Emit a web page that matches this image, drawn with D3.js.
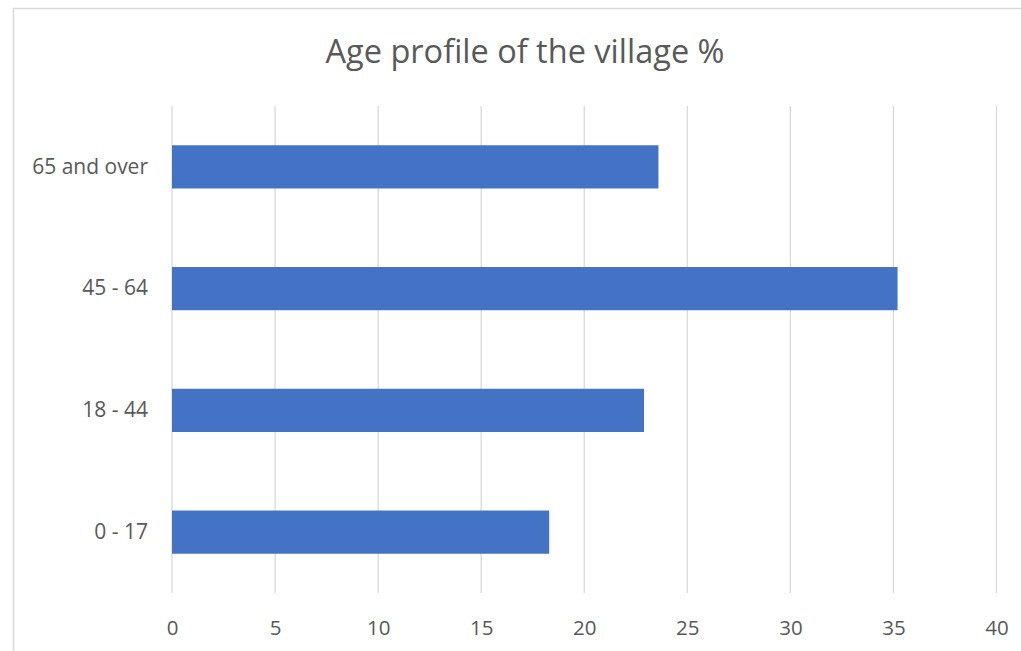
<!DOCTYPE html>
<html>
<head>
<meta charset="utf-8">
<script src="https://cdn.jsdelivr.net/npm/d3@7"></script>
<style>
  body { margin: 0; background: #fff; }
  text { font-family: "Open Sans", "Noto Sans", sans-serif; fill: #595959; }
</style>
</head>
<body>
<svg width="1021" height="651"></svg>
<script>
// Age groups, bottom to top as drawn in the chart
var categories = ["0 - 17", "18 - 44", "45 - 64", "65 and over"];
var values = [18.3, 22.9, 35.2, 23.6];
var xTicks = [0, 5, 10, 15, 20, 25, 30, 35, 40];

var svg = d3.select("svg");

// outer chart border (only top and left edges show in the picture)
svg.append("rect")
  .attr("x", 13.5)
  .attr("y", 8.5)
  .attr("width", 1030)
  .attr("height", 660)
  .style("fill", "none")
  .style("stroke", "#d9d9d9")
  .style("stroke-width", 1.5);

var margin = {top: 106, right: 24.5, bottom: 58, left: 172},
    width = 1021 - margin.left - margin.right,
    height = 651 - margin.top - margin.bottom;

var g = svg.append("g")
  .attr("transform", "translate(" + margin.left + "," + margin.top + ")");

var x = d3.scaleLinear()
  .domain([0, 40])
  .range([0, width]);

var y = d3.scaleBand()
  .domain(categories.slice().reverse())
  .range([0, height])
  .paddingInner(0.645)
  .paddingOuter(0.3225);

// vertical gridlines
g.selectAll("line.grid")
  .data(xTicks)
  .enter()
  .append("line")
    .attr("class", "grid")
    .attr("x1", function(d) { return x(d); })
    .attr("x2", function(d) { return x(d); })
    .attr("y1", 0)
    .attr("y2", height)
    .style("stroke", "#d9d9d9")
    .style("stroke-width", 1.3);

// bars
g.selectAll("rect.bar")
  .data(categories)
  .enter()
  .append("rect")
    .attr("class", "bar")
    .attr("x", x(0))
    .attr("y", function(d) { return y(d); })
    .attr("width", function(d, i) { return x(values[i]) - x(0); })
    .attr("height", y.bandwidth())
    .style("fill", "#4472c4");

// x axis labels
var xAxis = g.append("g")
  .attr("transform", "translate(0," + height + ")")
  .call(d3.axisBottom(x).tickValues(xTicks).tickSize(0).tickPadding(27));
xAxis.select(".domain").remove();
xAxis.selectAll("text")
  .style("font-size", "20.5px")
  .style("fill", "#595959")
  .style("font-family", "'Open Sans', sans-serif");

// y axis labels
var yAxis = g.append("g")
  .call(d3.axisLeft(y).tickSize(0).tickPadding(24));
yAxis.select(".domain").remove();
yAxis.selectAll("text")
  .style("font-size", "21px")
  .style("fill", "#595959")
  .style("font-family", "'Open Sans', sans-serif");

// title
svg.append("text")
  .attr("x", 525)
  .attr("y", 63)
  .attr("text-anchor", "middle")
  .style("font-size", "32.5px")
  .text("Age profile of the village %");
</script>
</body>
</html>
